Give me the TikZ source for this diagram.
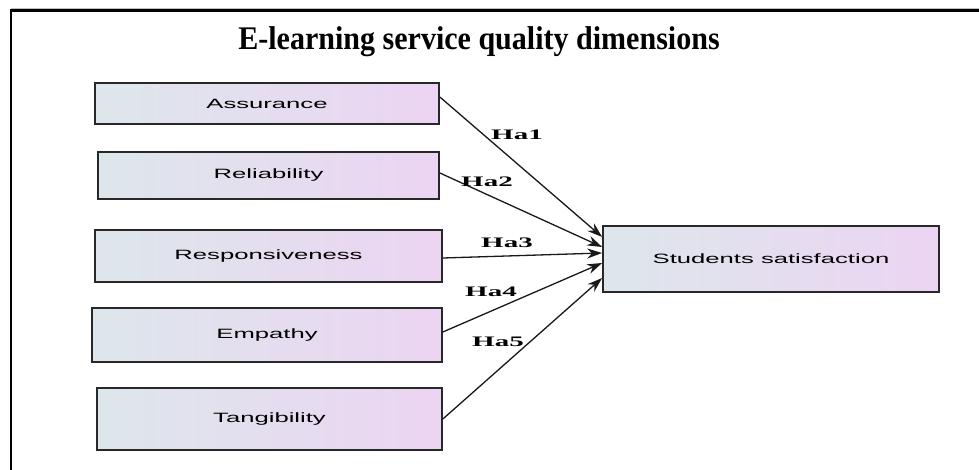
\documentclass[tikz,border=0pt]{standalone}
\usepackage{fontspec}
\setmainfont{Liberation Serif}
\newfontfamily\boxfont{Liberation Sans}
\usetikzlibrary{arrows.meta}
\definecolor{fillL}{RGB}{221,231,235}
\definecolor{fillR}{RGB}{236,212,243}
\definecolor{edge}{RGB}{40,40,40}
\tikzset{
  dimbox/.style={draw=edge, line width=1.7pt, left color=fillL, right color=fillR,
    inner sep=0pt, font=\boxfont\fontsize{13.5}{15}\selectfont},
  link/.style={line width=1.3pt, draw=black!90, -{Stealth[length=15pt,width=10pt]}},
  hlabel/.style={font=\bfseries\fontsize{14.5}{16}\selectfont, inner sep=0pt}
}
\newcommand{\wide}[1]{\scalebox{1.9}[1]{#1}}
\newcommand{\widelab}[1]{\scalebox{2}[1]{#1}}
\begin{document}
\begin{tikzpicture}[x=1pt,y=-1pt]
\useasboundingbox (0,0) rectangle (979,470);
\fill[white] (0,0) rectangle (979,470);
% frame
\draw[black!25, line width=0.8pt] (11,8) -- (979,8);
\draw[black, line width=2.5pt] (979,10.5) -- (11,10.5) -- (11,470);
% title
\node[font=\bfseries\fontsize{33}{36}\selectfont, anchor=base, inner sep=0pt] (title) at (479,50)
  {\scalebox{0.91}[1]{E-learning service quality dimensions}};
% dimension boxes
\node[dimbox, minimum width=344pt, minimum height=41pt] (ass)  at (267,103.5) {\wide{Assurance}};
\node[dimbox, minimum width=341pt, minimum height=47pt] (rel)  at (268.5,175.5) {\wide{Reliability}};
\node[dimbox, minimum width=347pt, minimum height=52pt] (resp) at (268.5,256) {\wide{Responsiveness}};
\node[dimbox, minimum width=350pt, minimum height=54pt] (emp)  at (267,335) {\wide{Empathy}};
\node[dimbox, minimum width=345pt, minimum height=62pt] (tan)  at (269.5,419) {\wide{Tangibility}};
% outcome box
\node[dimbox, minimum width=336pt, minimum height=66pt] (sat)  at (771,259) {\wide{Students satisfaction}};
% hypothesis paths
\draw[link] ([yshift=6.5pt]ass.east) -- ([yshift=22pt]sat.west);
\draw[link] ([yshift=2.5pt]rel.east) -- ([yshift=12pt]sat.west);
\draw[link] ([yshift=-2pt]resp.east) -- ([yshift=6pt]sat.west);
\draw[link] ([yshift=3pt]emp.east) -- ([yshift=-4pt]sat.west);
\draw[link] (tan.east) -- ([yshift=-19pt]sat.west);
% path labels
\node[hlabel] (h1) at (517,135) {\widelab{Ha1}};
\node[hlabel] (h2) at (487,182) {\widelab{Ha2}};
\node[hlabel] (h3) at (507,243) {\widelab{Ha3}};
\node[hlabel] (h4) at (491,292) {\widelab{Ha4}};
\node[hlabel] (h5) at (498,342) {\widelab{Ha5}};
\end{tikzpicture}
\end{document}
